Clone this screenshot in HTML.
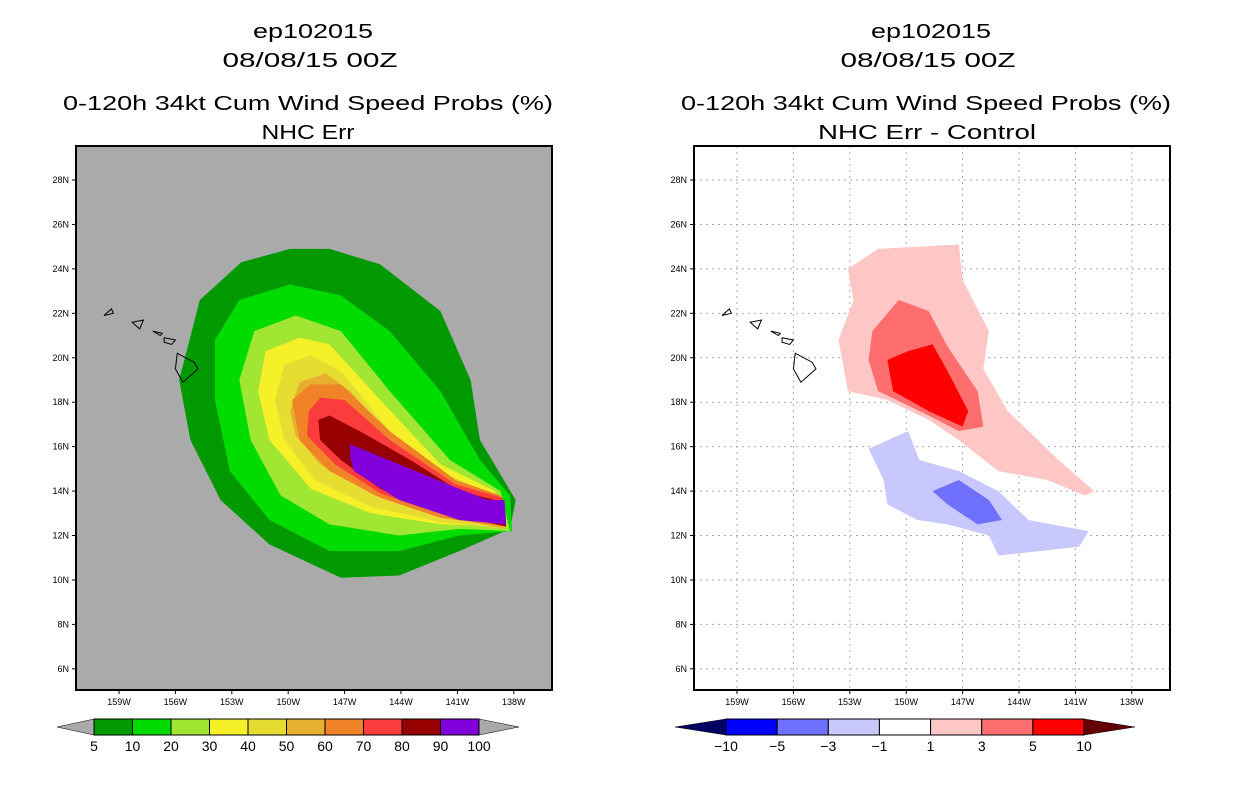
<!DOCTYPE html>
<html><head><meta charset="utf-8"><style>
body{margin:0;background:#fff}
svg{display:block;font-family:"Liberation Sans",sans-serif}
</style></head><body>
<svg id="s" width="1236" height="800" viewBox="0 0 1236 800">
<g font-size="20" text-anchor="middle" fill="#000" lengthAdjust="spacingAndGlyphs">
<text x="313" y="38" textLength="120" lengthAdjust="spacingAndGlyphs">ep102015</text>
<text x="310" y="67" textLength="175" lengthAdjust="spacingAndGlyphs">08/08/15 00Z</text>
<text x="308" y="110" textLength="490" lengthAdjust="spacingAndGlyphs">0-120h 34kt Cum Wind Speed Probs (%)</text>
<text x="308" y="139" textLength="93" lengthAdjust="spacingAndGlyphs">NHC Err</text>
<text x="931" y="38" textLength="120" lengthAdjust="spacingAndGlyphs">ep102015</text>
<text x="928" y="67" textLength="175" lengthAdjust="spacingAndGlyphs">08/08/15 00Z</text>
<text x="926" y="110" textLength="490" lengthAdjust="spacingAndGlyphs">0-120h 34kt Cum Wind Speed Probs (%)</text>
<text x="927" y="139" textLength="218" lengthAdjust="spacingAndGlyphs">NHC Err - Control</text>
</g>
<g id="L"></g><g id="R"></g>
</svg>
<script>
const latTicks=[28,26,24,22,20,18,16,14,12,10,8,6];
const lonTicks=[159,156,153,150,147,144,141,138];
const leftLevels=["5","10","20","30","40","50","60","70","80","90","100"];
const leftColors=["#009a00","#00dc00","#a0e632","#f5f028","#e6dc32","#e6af2d","#f08228","#fa3c3c","#960000","#8200dc"];
const rightLevels=["-10","-5","-3","-1","1","3","5","10"];
const rightColors=["#0000ff","#7070ff","#c8c8ff","#ffffff","#ffc6c6","#ff6e6e","#ff0000"];
const p5=[[149.9,24.9],[152.5,24.3],[154.7,22.6],[155.8,19.0],[155.2,16.3],[153.6,13.6],[151.0,11.6],[147.2,10.1],[144.1,10.2],[140.9,11.3],[138.2,12.3],[137.9,13.6],[139.8,16.3],[140.3,19.0],[141.9,22.1],[145.1,24.2],[147.8,24.9]];
const p10=[[153.9,20.8],[152.6,22.6],[149.9,23.3],[147.2,22.8],[144.6,21.2],[141.9,18.5],[139.8,15.4],[138.2,13.8],[138.1,12.2],[140.9,12.0],[144.1,11.3],[147.8,11.3],[151.0,12.7],[153.1,14.9],[153.9,18.1]];
const p20=[[152.6,19.0],[151.8,21.2],[149.6,21.9],[147.2,21.2],[144.6,18.5],[141.4,15.4],[138.7,14.0],[138.2,12.2],[140.9,12.3],[144.1,12.0],[147.8,12.5],[150.4,13.8],[152.0,16.3]];
const p30=[[151.6,18.5],[151.2,20.3],[149.4,20.9],[147.8,20.6],[145.1,18.1],[141.9,15.2],[139.0,14.0],[138.3,12.4],[141.9,12.5],[145.6,13.0],[148.8,14.1],[151.0,16.3]];
const p40=[[150.7,18.1],[150.2,19.7],[148.8,20.1],[147.2,19.4],[144.6,16.7],[141.4,14.7],[139.0,13.8],[138.5,12.3],[141.9,12.6],[145.6,13.3],[148.6,14.5],[150.2,16.3]];
const p50=[[149.9,17.6],[149.4,18.9],[148.0,19.3],[146.7,18.5],[144.1,16.0],[141.1,14.3],[138.9,13.7],[138.5,12.3],[141.9,12.9],[145.4,13.8],[148.3,15.2],[149.6,16.5]];
const p60=[[149.8,18.1],[148.8,18.8],[147.2,18.8],[144.6,16.7],[141.1,14.5],[138.7,13.8],[138.4,12.4],[141.9,12.8],[145.1,13.7],[147.8,14.9],[149.4,16.3]];
const p70=[[148.9,17.6],[148.3,18.2],[147.0,18.1],[144.6,16.3],[141.1,14.3],[138.6,13.7],[138.4,12.4],[141.9,13.0],[145.1,13.9],[147.5,15.2],[149.0,16.5]];
const p80=[[148.4,17.2],[147.8,17.4],[146.2,16.7],[143.5,15.4],[140.9,14.0],[138.5,13.5],[138.4,12.4],[141.9,13.1],[145.1,14.1],[147.2,15.4],[148.3,16.3]];
const p90=[[146.7,16.1],[144.1,15.2],[140.9,14.1],[139.4,13.6],[138.5,13.6],[138.4,12.5],[140.9,12.7],[144.1,13.6],[146.5,14.9],[146.7,15.5]];
const d1=[[153.1,24.0],[151.5,24.9],[147.2,25.1],[147.0,23.5],[145.6,21.2],[145.9,19.5],[144.6,17.6],[141.9,15.4],[140.0,14.0],[140.5,13.8],[142.5,14.5],[145.1,14.9],[147.2,16.3],[148.8,17.2],[151.0,18.1],[153.1,18.5],[153.6,20.8],[152.8,22.6]];
const d3=[[151.8,21.2],[150.4,22.6],[148.8,22.1],[147.8,20.5],[146.2,18.5],[145.9,16.9],[147.2,16.7],[148.8,17.4],[151.5,18.5],[152.0,19.9]];
const d5=[[151.0,19.9],[149.9,20.3],[148.6,20.6],[147.8,19.4],[146.7,17.6],[147.0,16.9],[148.8,17.6],[150.7,18.5]];
const dm1=[[152.0,15.9],[149.9,16.7],[149.3,15.4],[147.2,14.9],[145.1,14.0],[143.5,12.7],[140.3,12.2],[140.8,11.5],[142.9,11.3],[145.1,11.1],[145.6,12.0],[147.8,12.5],[149.4,12.7],[151.0,13.4],[151.2,14.5]];
const dm3=[[148.6,14.0],[147.2,14.5],[145.6,13.6],[144.9,12.7],[146.2,12.5],[147.8,13.4]];
const islands=[[[159.8,21.9],[159.4,22.2],[159.3,22.0]],[[158.3,21.6],[157.7,21.7],[157.9,21.3]],[[157.2,21.2],[156.7,21.1],[156.8,21.0]],[[156.6,20.9],[156.0,20.8],[156.2,20.6],[156.6,20.7]],[[155.9,20.2],[155.0,19.8],[154.8,19.5],[155.6,18.9],[156.0,19.5]]];
const NS="http://www.w3.org/2000/svg";
function mk(parent,tag,attrs){const e=document.createElementNS(NS,tag);for(const k in attrs)e.setAttribute(k,attrs[k]);parent.appendChild(e);return e;}
function panel(g,x0,bg,contours,colors,grid){
  const X=w=>x0+43+(159-w)*18.8, Y=lat=>180+(28-lat)*22.22;
  const bgr=mk(g,'rect',{x:x0,y:146,width:476,height:544,fill:bg});
  
  
  if(grid){
    lonTicks.forEach(w=>{const l=mk(g,'line',{x1:X(w),x2:X(w),y1:146,y2:690,stroke:'#aaa','stroke-dasharray':'2,4'});
      
      });
    latTicks.forEach(t=>{const l=mk(g,'line',{x1:x0,x2:x0+476,y1:Y(t),y2:Y(t),stroke:'#aaa','stroke-dasharray':'2,4'});
      
      });
  }
  contours.forEach((c,i)=>{
    const p=mk(g,'polygon',{points:c.map(q=>X(q[0])+','+Y(q[1])).join(' '),fill:colors[i]});
    
    
  });
  islands.forEach(c=>{
    const p=mk(g,'polygon',{points:c.map(q=>X(q[0])+','+Y(q[1])).join(' '),fill:'none',stroke:'#000','stroke-width':1});
    
    
  });
  const fr=mk(g,'rect',{x:x0,y:146,width:476,height:544,fill:'none',stroke:'#000','stroke-width':2});
  
  
  latTicks.forEach(t=>{
    mk(g,'line',{x1:x0-4,x2:x0,y1:Y(t),y2:Y(t),stroke:'#000'});
    const tx=mk(g,'text',{x:x0-7,y:Y(t)+3,'font-size':9,'text-anchor':'end'});tx.textContent=t+'N';
    
    
  });
  lonTicks.forEach(w=>{
    mk(g,'line',{x1:X(w),x2:X(w),y1:690,y2:694,stroke:'#000'});
    const tx=mk(g,'text',{x:X(w),y:705,'font-size':9,'text-anchor':'middle'});tx.textContent=w+'W';
    
    
  });
}
function colorbar(g,x1,x2,la,ra,colors,labels,lc,rc,labelOffset){
  const n=colors.length,bw=(x2-x1)/n;
  const a=mk(g,'polygon',{points:`${la},727 ${x1},719 ${x1},735`,fill:lc,stroke:'#000','stroke-width':0.5});
  
  
  const b=mk(g,'polygon',{points:`${ra},727 ${x2},719 ${x2},735`,fill:rc,stroke:'#000','stroke-width':0.5});
  
  
  colors.forEach((c,i)=>{const r=mk(g,'rect',{x:x1+i*bw,y:719,width:bw,height:16,fill:c,stroke:'#000','stroke-width':1});
    
    });
  labels.forEach((l,i)=>{const t=mk(g,'text',{x:x1+(i+labelOffset)*bw,y:751,'font-size':14,'text-anchor':'middle'});t.textContent=l.replace('-','\u2212');
    
    });
}
const L=document.getElementById('L'),R=document.getElementById('R');
panel(L,76,'#aaaaaa',[p5,p10,p20,p30,p40,p50,p60,p70,p80,p90],leftColors,false);
panel(R,694,'#ffffff',[d1,d3,d5,dm1,dm3],["#ffc6c6","#ff6e6e","#ff0000","#c8c8ff","#7070ff"],true);
colorbar(L,94,479,57,519,leftColors,leftLevels,'#aaaaaa','#aaaaaa',0);
colorbar(R,726,1084,675,1135,rightColors,rightLevels,'#000064','#640000',0);
</script>
</body></html>
